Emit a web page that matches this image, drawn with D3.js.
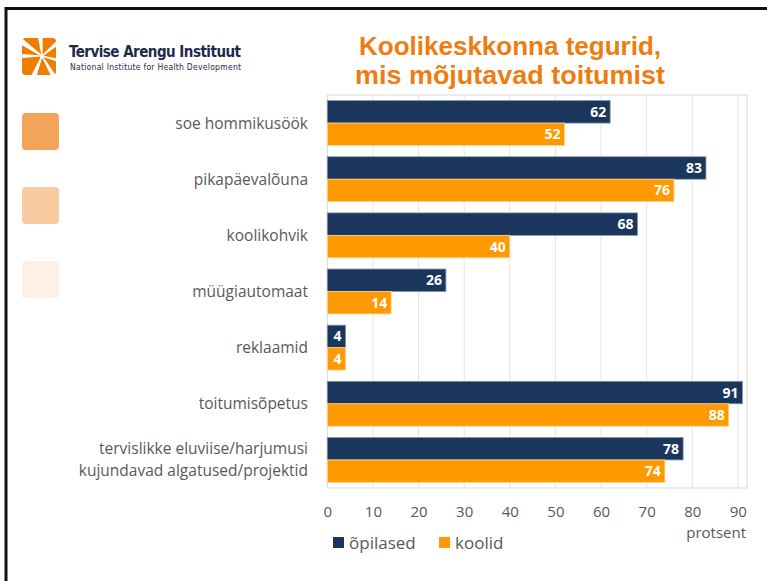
<!DOCTYPE html>
<html><head><meta charset="utf-8">
<script src="https://cdn.jsdelivr.net/npm/d3@7"></script>
<style>body{margin:0;background:#fff}svg{display:block}</style>
</head><body>
<script>
const categories = [
  ["soe hommikusöök"],
  ["pikapäevalõuna"],
  ["koolikohvik"],
  ["müügiautomaat"],
  ["reklaamid"],
  ["toitumisõpetus"],
  ["tervislikke eluviise/harjumusi", "kujundavad algatused/projektid"]
];
const opilased = [62, 83, 68, 26, 4, 91, 78];
const koolid = [52, 76, 40, 14, 4, 88, 74];
const seriesNames = ["õpilased", "koolid"];
const seriesColors = ["#1b365d", "#ff9900"];
const xTicks = [0, 10, 20, 30, 40, 50, 60, 70, 80, 90];
const titleLines = ["Koolikeskkonna tegurid,", "mis mõjutavad toitumist"];
const swatchColors = ["#f4a35a", "#f9cba0", "#fdf0e6"];

const W = 767, H = 581;
const svg = d3.select("body").append("svg").attr("width", W).attr("height", H);
const font = "Open Sans, sans-serif";

// frame border
svg.append("rect").attr("x", 0).attr("y", 0).attr("width", W).attr("height", H).attr("fill", "#fff");
svg.append("line").attr("x1", 5).attr("x2", W).attr("y1", 8.5).attr("y2", 8.5).attr("stroke", "#111").attr("stroke-width", 3);
svg.append("line").attr("x1", 6).attr("x2", 6).attr("y1", 7).attr("y2", H).attr("stroke", "#111").attr("stroke-width", 3);

// logo
const defs = svg.append("defs");
defs.append("clipPath").attr("id", "lc").append("rect").attr("width", 34).attr("height", 37).attr("rx", 3);
const logo = svg.append("g").attr("transform", "translate(22,38)").attr("clip-path", "url(#lc)");
logo.append("rect").attr("width", 34).attr("height", 37).attr("rx", 3).attr("fill", "#ef7d00");
const cx = 20, cy = 18;
const rays = [[-95, 3.5], [-145, 3.5], [-40, 3], [15, 2.5], [60, 3], [112, 3.5], [180, 3]];
rays.forEach(([a, hw]) => {
  const r = a * Math.PI / 180, p = (a + 90) * Math.PI / 180;
  const L = 32;
  const pts = [
    [cx + Math.cos(p) * 0.6, cy + Math.sin(p) * 0.6],
    [cx + Math.cos(r) * L + Math.cos(p) * hw, cy + Math.sin(r) * L + Math.sin(p) * hw],
    [cx + Math.cos(r) * L - Math.cos(p) * hw, cy + Math.sin(r) * L - Math.sin(p) * hw],
    [cx - Math.cos(p) * 0.6, cy - Math.sin(p) * 0.6]
  ];
  logo.append("polygon").attr("points", pts.map(d => d.join(",")).join(" ")).attr("fill", "#fff");
});
logo.append("circle").attr("cx", cx).attr("cy", cy).attr("r", 2.2).attr("fill", "#fff");
svg.append("text").attr("x", 69).attr("y", 57).attr("font-family", "Liberation Sans Narrow, DejaVu Sans Condensed, sans-serif")
  .attr("font-size", 15).attr("font-weight", "bold").attr("fill", "#1d2b4a").attr("textLength", 172).text("Tervise Arengu Instituut");
svg.append("text").attr("x", 70).attr("y", 70).attr("font-family", "DejaVu Sans Condensed, sans-serif")
  .attr("font-size", 8.5).attr("fill", "#1d2b4a").attr("textLength", 171).text("National Institute for Health Development");

// title (single text element, two lines)
const title = svg.append("text").attr("text-anchor", "middle")
  .attr("font-family", "Liberation Sans Narrow, sans-serif").attr("font-weight", "bold")
  .attr("font-size", 26).attr("fill", "#ee7d11");
titleLines.forEach((t, i) => {
  title.append("tspan").attr("x", 510).attr("y", 55 + i * 29)
    .attr("textLength", i === 0 ? 302 : 310).attr("lengthAdjust", "spacingAndGlyphs").text(t);
});

// swatches
swatchColors.forEach((c, i) => {
  svg.append("rect").attr("x", 22).attr("y", 113 + i * 74).attr("width", 37).attr("height", 37).attr("rx", 4).attr("fill", c);
});

// chart
const x0 = 327.3, x1 = 747, yTop = 95, yBot = 488;
const x = d3.scaleLinear().domain([0, 92]).range([x0, x1]);
const y = d3.scaleBand().domain(d3.range(categories.length)).range([yTop, yBot]).paddingInner(0.2).paddingOuter(0.1);
const ySub = d3.scaleBand().domain([0, 1]).range([0, y.bandwidth()]);

const g = svg.append("g");
g.selectAll("line.grid").data(xTicks.filter(d => d > 0)).enter().append("line")
  .attr("x1", d => x(d)).attr("x2", d => x(d)).attr("y1", yTop).attr("y2", yBot)
  .attr("stroke", "#e6e6e6").attr("stroke-width", 1);
g.append("rect").attr("x", x0).attr("y", yTop).attr("width", x1 - x0).attr("height", yBot - yTop)
  .attr("fill", "none").attr("stroke", "#d9d9d9").attr("stroke-width", 1);

const series = [opilased, koolid];
series.forEach((vals, s) => {
  const gs = g.append("g");
  gs.selectAll("rect").data(vals).enter().append("rect")
    .attr("x", x(0)).attr("y", (d, i) => y(i) + ySub(s))
    .attr("width", d => x(d) - x(0)).attr("height", ySub.bandwidth())
    .attr("fill", seriesColors[s]).attr("stroke", s === 0 ? "#8593a8" : "#ffd699").attr("stroke-width", 0.8);
  gs.selectAll("text").data(vals).enter().append("text")
    .attr("x", d => x(d) - 4).attr("y", (d, i) => y(i) + ySub(s) + ySub.bandwidth() / 2 + 5)
    .attr("text-anchor", "end").attr("font-family", font).attr("font-weight", "bold").attr("font-size", 14)
    .attr("fill", "#fff").text(d => d);
});

// category labels
categories.forEach((lines, i) => {
  const cyy = y(i) + y.bandwidth() / 2;
  lines.forEach((ln, j) => {
    const off = (j - (lines.length - 1) / 2) * 22;
    svg.append("text").attr("x", 308).attr("y", cyy + off + 5.5).attr("text-anchor", "end")
      .attr("font-family", font).attr("font-size", 15.5).attr("fill", "#595959").text(ln);
  });
});

// x axis tick labels
const ax = svg.append("g").attr("transform", `translate(0,${yBot})`)
  .call(d3.axisBottom(x).tickValues(xTicks).tickSize(0).tickPadding(18));
ax.select(".domain").remove();
ax.selectAll("text").attr("font-family", font).attr("font-size", 15).attr("fill", "#595959");
svg.append("text").attr("x", 746).attr("y", 538).attr("text-anchor", "end").attr("font-family", font)
  .attr("font-size", 15).attr("fill", "#595959").text("protsent");

// legend
const legX = [333, 439];
seriesNames.forEach((n, i) => {
  svg.append("rect").attr("x", legX[i]).attr("y", 537).attr("width", 11).attr("height", 11).attr("fill", seriesColors[i]);
  svg.append("text").attr("x", legX[i] + 16).attr("y", 549).attr("font-family", font).attr("font-size", 17)
    .attr("fill", "#595959").text(n);
});
</script>
</body></html>
